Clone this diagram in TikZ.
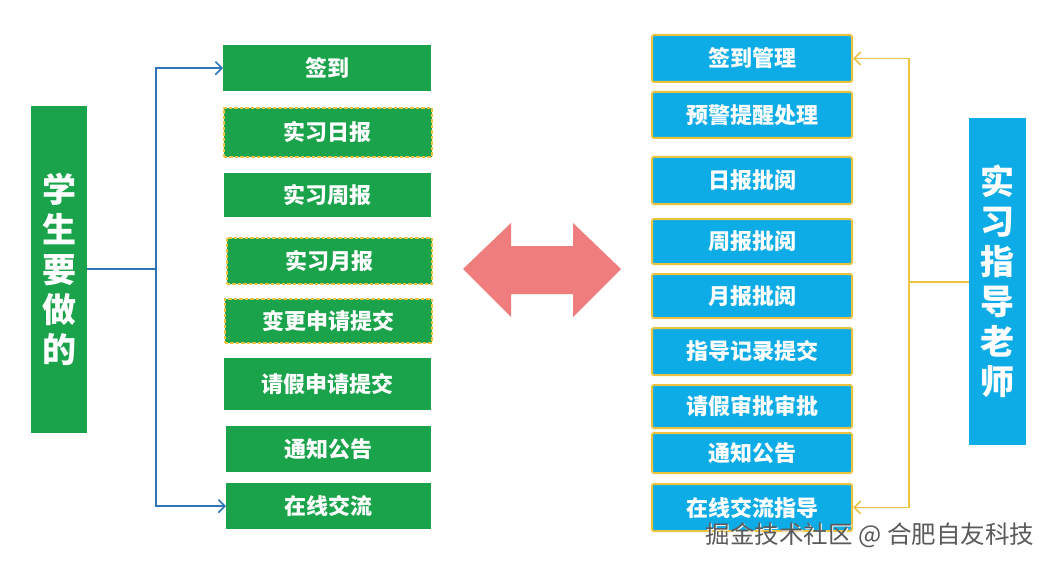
\documentclass[tikz,border=0pt]{standalone}
\usepackage{fontspec}
\newfontfamily\cjk{Noto Sans CJK SC}
\usetikzlibrary{arrows.meta}
\definecolor{gr}{HTML}{1AA34A}
\definecolor{cy}{HTML}{0DACE6}
\definecolor{yb}{HTML}{EBC341}
\definecolor{bl}{HTML}{2E75B6}
\definecolor{pk}{RGB}{240,125,125}
\definecolor{wm}{HTML}{5A5A5A}
\tikzset{
  gbox/.style={fill=gr, draw=none, inner sep=0pt, anchor=north west, text=white,
    font=\cjk\bfseries\fontsize{22}{26}\selectfont},
  gdash/.style={gbox, draw=yb, line width=1.8pt, dash pattern=on 3.5pt off 2pt},
  cbox/.style={fill=cy, draw=yb, line width=2pt, rounded corners=1.5pt, inner sep=0pt,
    anchor=north west, text=white, font=\cjk\bfseries\fontsize{22}{26}\selectfont},
  bigbox/.style={inner sep=0pt, anchor=north west, text=white, align=center,
    font=\cjk\bfseries\fontsize{34}{40}\selectfont},
  bline/.style={draw=bl, line width=1.6pt, line join=miter},
  yline/.style={draw=yb, line width=1.6pt, line join=miter},
  tip/.style={-{Straight Barb[length=6.5pt,width=13pt,line width=1.6pt]}}
}
\begin{document}
\begin{tikzpicture}[x=1pt,y=-1pt]
\useasboundingbox (0,0) rectangle (1055,567);
\fill[white] (0,0) rectangle (1055,567);
% left big box
\node[bigbox, fill=gr, minimum width=56pt, minimum height=327pt] (stu) at (31,106) {};
\node[bigbox] at (stu.center) [anchor=center] {学\\生\\要\\做\\的};
% left boxes
\node[gbox,  minimum width=208pt, minimum height=46pt] (s1) at (223,45) {签到};
\node[gdash, minimum width=208pt, minimum height=49pt] (s2) at (223,107) {实习日报};
\node[gbox,  minimum width=207pt, minimum height=44pt] (s3) at (224,173) {实习周报};
\node[gdash, minimum width=205pt, minimum height=46pt] (s4) at (226,237) {实习月报};
\node[gdash, minimum width=207pt, minimum height=44pt] (s5) at (224,298) {变更申请提交};
\node[gbox,  minimum width=207pt, minimum height=52pt] (s6) at (224,358) {请假申请提交};
\node[gbox,  minimum width=205pt, minimum height=46pt] (s7) at (226,426) {通知公告};
\node[gbox,  minimum width=205pt, minimum height=46pt] (s8) at (226,483) {在线交流};
% right boxes
\node[cbox, minimum width=200pt, minimum height=47pt] (t1) at (651,34) {签到管理};
\node[cbox, minimum width=200pt, minimum height=46pt] (t2) at (651,91) {预警提醒处理};
\node[cbox, minimum width=200pt, minimum height=47pt] (t3) at (651,156) {日报批阅};
\node[cbox, minimum width=200pt, minimum height=45pt] (t4) at (651,218) {周报批阅};
\node[cbox, minimum width=200pt, minimum height=44pt] (t5) at (651,273) {月报批阅};
\node[cbox, minimum width=200pt, minimum height=47pt] (t6) at (651,327) {指导记录提交};
\node[cbox, minimum width=200pt, minimum height=43pt] (t7) at (651,384) {请假审批审批};
\node[cbox, minimum width=200pt, minimum height=40pt] (t8) at (651,432) {通知公告};
\node[cbox, minimum width=200pt, minimum height=47pt] (t9) at (651,483) {在线交流指导};
% right big box
\node[bigbox, fill=cy, minimum width=57pt, minimum height=327pt] (tea) at (969,118) {};
\node[bigbox] at (tea.center) [anchor=center] {实\\习\\指\\导\\老\\师};
% connectors
\coordinate (bj) at (156,269);
\draw[bline] (stu.east |- bj) -- (bj);
\draw[bline, tip] (bj) |- (s1.west);
\draw[bline, tip] (bj) |- (s8.west);
\coordinate (tj) at (909,282);
\draw[yline] (tea.west |- tj) -- (tj);
\draw[yline, tip] (tj) |- (t1.east);
\draw[yline, tip] (tj) |- (t9.east);
% double arrow
\fill[pk] (463,269) -- (511,223) -- (511,246) -- (573,246) -- (573,223) -- (621,269)
  -- (573,317) -- (573,294) -- (511,294) -- (511,317) -- cycle;
% watermark
\node[text=white, font=\cjk\fontsize{24.5}{28}\selectfont] at (871,536) {掘金技术社区 @ 合肥自友科技};
\node[text=wm, font=\cjk\fontsize{24.5}{28}\selectfont] (wmk) at (870,535) {掘金技术社区 @ 合肥自友科技};
\end{tikzpicture}
\end{document}
